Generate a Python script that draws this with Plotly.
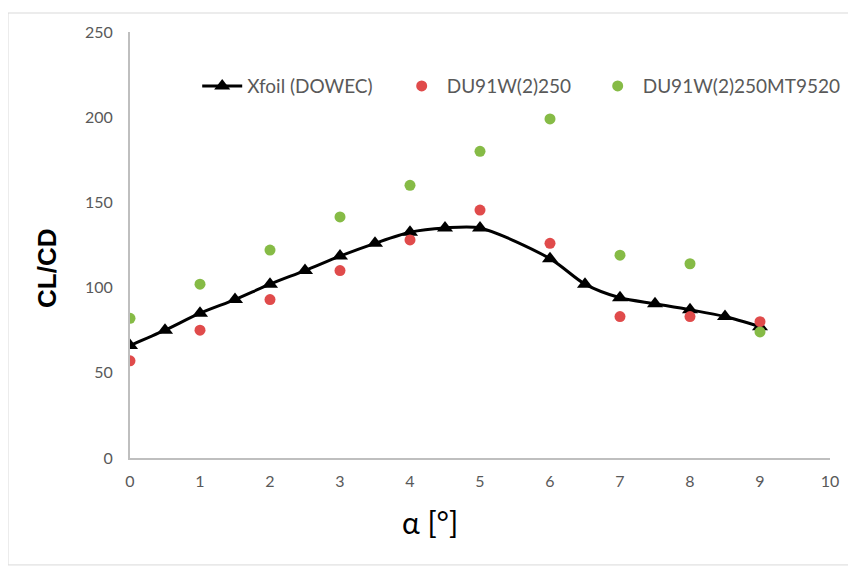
import plotly.graph_objects as go

xfoil_x = [0, 0.5, 1, 1.5, 2, 2.5, 3, 3.5, 4, 4.5, 5, 6, 6.5, 7, 7.5, 8, 8.5, 9]
xfoil_y = [66, 75, 85, 93, 102, 110, 118.5, 126, 132.5, 135, 135, 117, 102, 94, 90.5, 87, 83, 77]

du_x = [0, 1, 2, 3, 4, 5, 6, 7, 8, 9]
du_y = [57, 75, 93, 110, 128, 145.5, 126, 83, 83, 80]

mt_x = [0, 1, 2, 3, 4, 5, 6, 7, 8, 9]
mt_y = [82, 102, 122, 141.5, 160, 180, 199, 119, 114, 74]

x_ticks = list(range(0, 11))
y_ticks = [0, 50, 100, 150, 200, 250]

fig = go.Figure()
fig.add_trace(go.Scatter(
    x=xfoil_x, y=xfoil_y, name="Xfoil (DOWEC)", mode="lines+markers", legend="legend",
    line=dict(color="black", width=3, shape="spline", smoothing=0.8),
    marker=dict(symbol="triangle-up", size=14, color="black"),
))
fig.add_trace(go.Scatter(
    x=du_x, y=du_y, name="DU91W(2)250", mode="markers", legend="legend2",
    marker=dict(symbol="circle", size=11, color="#e04b4b"),
))
fig.add_trace(go.Scatter(
    x=mt_x, y=mt_y, name="DU91W(2)250MT9520", mode="markers", legend="legend3",
    marker=dict(symbol="circle", size=11, color="#86bb46"),
))

FONT = "Lato, Liberation Sans, sans-serif"
tickfont = dict(family=FONT, size=16, color="#595959")
legfont = dict(family=FONT, size=19, color="#595959")

def leg(x):
    return dict(orientation="h", x=x, y=0.873, xanchor="left", yanchor="middle",
                font=legfont, bgcolor="rgba(0,0,0,0)", itemwidth=40)

fig.update_layout(
    width=848, height=559,
    margin=dict(l=122, r=26, t=24, b=109, autoexpand=False),
    paper_bgcolor="white", plot_bgcolor="white",
    showlegend=True,
    legend=leg(0.096),
    legend2=leg(0.381),
    legend3=leg(0.661),
    xaxis=dict(range=[0, 10], tickvals=x_ticks, showgrid=False, zeroline=False,
               showline=True, linecolor="#bfbfbf", linewidth=2, ticks="", tickfont=tickfont,
               ticklabelstandoff=8, automargin=False),
    yaxis=dict(range=[0, 250], tickvals=y_ticks, showgrid=False, zeroline=False,
               showline=True, linecolor="#bfbfbf", linewidth=2, ticks="", tickfont=tickfont,
               ticklabelstandoff=12, automargin=False),
    annotations=[
        dict(text="<b>CL/CD</b>", xref="paper", yref="paper", x=-0.1186, y=0.446,
             textangle=-90, showarrow=False, xanchor="center", yanchor="middle",
             font=dict(family="Liberation Sans, Arial, sans-serif", size=26, color="black")),
        dict(text="α [°]", xref="paper", yref="paper", x=0.4286, y=-0.150,
             showarrow=False, xanchor="center", yanchor="middle",
             font=dict(family=FONT, size=30, color="black")),
    ],
    shapes=[dict(type="rect", xref="paper", yref="paper", x0=-0.1743, x1=1.033, y0=-0.251, y1=1.0446,
                 line=dict(color="#d9d9d9", width=1), fillcolor="rgba(0,0,0,0)", layer="below")],
)

fig.write_html("out.html")
